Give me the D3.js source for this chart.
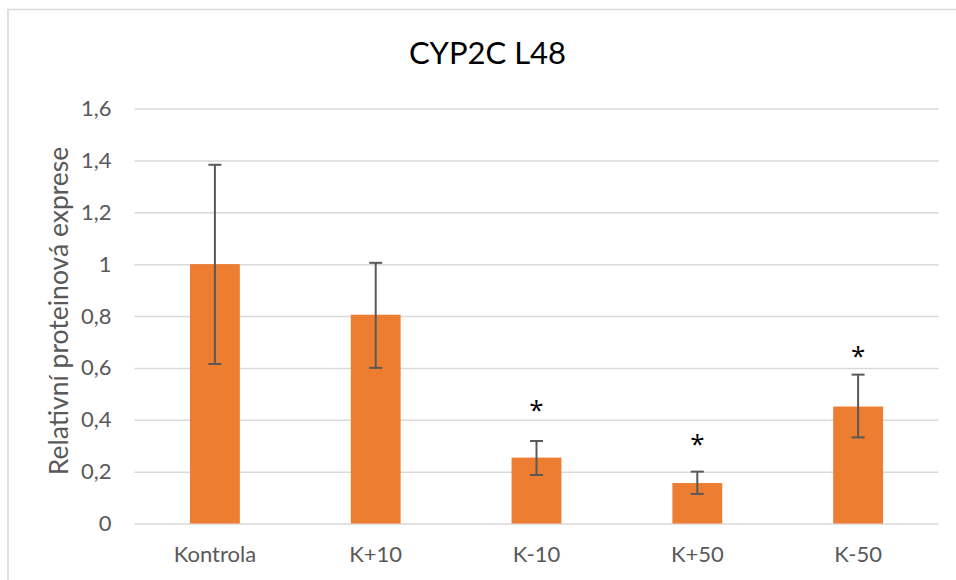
<!DOCTYPE html>
<html><head><meta charset="utf-8">
<script src="https://cdn.jsdelivr.net/npm/d3@7"></script>
<style>body{margin:0;background:#fff;} svg{display:block;}</style>
</head><body>
<svg id="c" width="956" height="580"></svg>
<script>
const categories = ["Kontrola", "K+10", "K-10", "K+50", "K-50"];
const values = [1.0, 0.805, 0.254, 0.156, 0.451];
const errLow = [0.615, 0.6, 0.187, 0.114, 0.332];
const errHigh = [1.383, 1.005, 0.318, 0.2, 0.574];
const stars = ["", "", "*", "*", "*"];
const starPos = [null, null, 0.457, 0.326, 0.668];
const yTicks = [0, 0.2, 0.4, 0.6, 0.8, 1, 1.2, 1.4, 1.6];
const title = "CYP2C L48";
const yTitle = "Relativní proteinová exprese";

const svg = d3.select("#c");
const font = "Lato, Open Sans, sans-serif";
const starFont = "Open Sans, sans-serif";
const m = {left: 134.5, right: 938.5, top: 108.5, bottom: 523.5};
const tickFs = 22, xFs = 22;

svg.append("rect").attr("x", 8).attr("y", 9.5).attr("width", 960).attr("height", 600)
  .attr("fill", "#fff").attr("stroke", "#d9d9d9").attr("stroke-width", 1.5);

const x = d3.scaleBand().domain(categories).range([m.left, m.right]).paddingInner(0.69).paddingOuter(0.345);
const y = d3.scaleLinear().domain([0, 1.6]).range([m.bottom, m.top]);

const yAxis = d3.axisLeft(y).tickValues(yTicks).tickSize(-(m.right - m.left)).tickPadding(23)
  .tickFormat(d => String(d).replace(".", ","));
const gy = svg.append("g").attr("transform", `translate(${m.left},0)`).call(yAxis);
gy.select(".domain").remove();
gy.selectAll(".tick line").attr("stroke", "#d9d9d9").attr("stroke-width", 1.5);
gy.selectAll(".tick text").attr("fill", "#595959").style("font-family", font).style("font-size", tickFs + "px");

const xAxis = d3.axisBottom(x).tickSize(0).tickPadding(38.2 - 0.71 * xFs);
const gx = svg.append("g").attr("transform", `translate(0,${m.bottom})`).call(xAxis);
gx.select(".domain").remove();
gx.selectAll(".tick text").attr("fill", "#595959").style("font-family", font).style("font-size", xFs + "px");

svg.append("g").selectAll("rect").data(categories).join("rect")
  .attr("x", d => x(d)).attr("width", x.bandwidth())
  .attr("y", (d, i) => y(values[i])).attr("height", (d, i) => y(0) - y(values[i]))
  .attr("fill", "#ed7d31");

const eg = svg.append("g").attr("stroke", "#595959").attr("stroke-width", 2);
categories.forEach((c, i) => {
  const cx = x(c) + x.bandwidth() / 2;
  eg.append("line").attr("x1", cx).attr("x2", cx).attr("y1", y(errLow[i])).attr("y2", y(errHigh[i]));
  eg.append("line").attr("x1", cx - 6.5).attr("x2", cx + 6.5).attr("y1", y(errLow[i])).attr("y2", y(errLow[i]));
  eg.append("line").attr("x1", cx - 6.5).attr("x2", cx + 6.5).attr("y1", y(errHigh[i])).attr("y2", y(errHigh[i]));
});

svg.append("g").selectAll("text").data(categories).join("text")
  .filter((d, i) => stars[i])
  .attr("x", d => x(d) + x.bandwidth() / 2)
  .attr("y", d => y(starPos[categories.indexOf(d)]))
  .attr("dy", "0.55em").attr("text-anchor", "middle")
  .style("font-family", starFont).style("font-size", "26px").attr("fill", "#000")
  .text(d => stars[categories.indexOf(d)]);

svg.append("text").attr("x", 487.5).attr("y", 64).attr("text-anchor", "middle")
  .style("font-family", font).style("font-size", "31px").attr("fill", "#000").text(title);

svg.append("text").attr("transform", `translate(68,311) rotate(-90)`)
  .attr("text-anchor", "middle").style("font-family", font).style("font-size", "26.5px")
  .attr("fill", "#595959").text(yTitle);
</script>
</body></html>
